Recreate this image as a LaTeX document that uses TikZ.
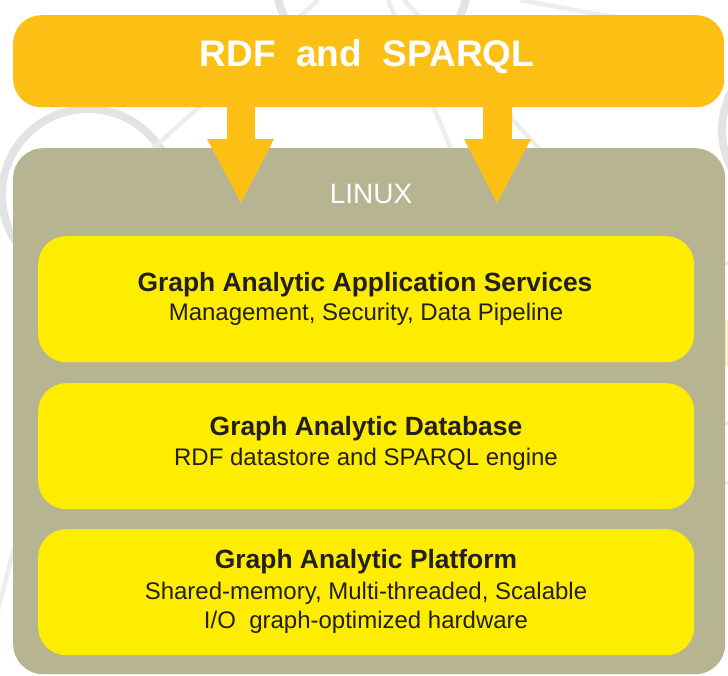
\documentclass[tikz,border=0pt]{standalone}
\usepackage{fontspec}
\setmainfont{Liberation Sans}
\begin{document}
\begin{tikzpicture}[x=1pt,y=-1pt,
  ringstroke/.style={draw=ringgray, line width=8pt},
  linestroke/.style={draw=linegray, line width=4.5pt},
  layerbox/.style={fill=layeryellow, rounded corners=28pt},
  titletext/.style={text=inkdark, font=\fontsize{26.4}{29}\selectfont\bfseries, inner sep=0pt, anchor=base},
  subtext/.style={text=inkdark, font=\fontsize{24}{26}\selectfont, inner sep=0pt, anchor=base},
  blockarrow/.style={fill=rdforange}
]
\definecolor{rdforange}{RGB}{252,191,20}
\definecolor{linuxkhaki}{RGB}{183,180,146}
\definecolor{layeryellow}{RGB}{255,237,0}
\definecolor{inkdark}{RGB}{35,31,32}
\definecolor{ringgray}{RGB}{226,227,229}
\definecolor{linegray}{RGB}{236,237,239}
\definecolor{peach}{RGB}{253,236,205}

\useasboundingbox (0,0) rectangle (728,675);
\begin{scope}
\clip (0,0) rectangle (728,675);
% faint graph pattern in the background
\draw[ringstroke] (88,195) circle[radius=86];
\draw[ringstroke] (372,-25) circle[radius=97];
\draw[ringstroke] (802,130) circle[radius=80];
\draw[linestroke] (388,0) -- (455,158);
\draw[linestroke] (404,0) -- (542,152);
\draw[linestroke] (138,162) -- (318,0);
\draw[linestroke] (520,0) -- (640,22);
\draw[linestroke] (-4,618) -- (16,540);
\draw[linestroke] (716,263) -- (728,263);
\draw[linestroke] (716,423) -- (728,423);
\draw[linestroke] (716,483) -- (728,483);
\fill[peach] (716,320) rectangle (728,367);
\end{scope}

% outer layers
\node[fill=rdforange, rounded corners=28pt, minimum width=711pt, minimum height=92pt,
      inner sep=0pt, anchor=north west] (rdf) at (13,15) {};
\node[fill=linuxkhaki, rounded corners=30pt, minimum width=712pt, minimum height=526pt,
      inner sep=0pt, anchor=north west] (linux) at (13,148) {};

% block arrows from the RDF layer down into the Linux layer
\coordinate (tipL) at (241,203);
\coordinate (tipR) at (497,203);
\fill[blockarrow] (227,100) -- (255,100) -- (255,139) -- (274,139) -- (tipL)
  -- (207,139) -- (227,139) -- cycle;
\fill[blockarrow] (483,100) -- (512,100) -- (512,139) -- (531,139) -- (tipR)
  -- (464,139) -- (483,139) -- cycle;

\node[text=white, font=\fontsize{37}{40}\selectfont\bfseries, inner sep=0pt, anchor=base]
  (rdflabel) at (367,66) {RDF\ \ and\ \ SPARQL};
\node[text=white, font=\fontsize{28}{30}\selectfont, inner sep=0pt, anchor=base]
  (linuxlabel) at (371,203) {LINUX};

% stacked yellow layers
\node[layerbox, minimum width=656pt, minimum height=126pt, inner sep=0pt,
      anchor=north west] (services) at (38,236) {};
\node[layerbox, minimum width=656pt, minimum height=126pt, inner sep=0pt,
      anchor=north west] (database) at (38,383) {};
\node[layerbox, minimum width=656pt, minimum height=126pt, inner sep=0pt,
      anchor=north west] (platform) at (38,529) {};

\node[titletext] (servicesT) at (365,291) {Graph Analytic Application Services};
\node[subtext]   (servicesS) at (366,320) {Management, Security, Data Pipeline};

\node[titletext] (databaseT) at (366,435) {Graph Analytic Database};
\node[subtext]   (databaseS) at (366,465) {RDF datastore and SPARQL engine};

\node[titletext] (platformT) at (366,568) {Graph Analytic Platform};
\node[subtext]   (platformS) at (366,599) {Shared-memory, Multi-threaded, Scalable};
\node[subtext]   (platformH) at (366,628) {I/O\ \ graph-optimized hardware};
\end{tikzpicture}
\end{document}
